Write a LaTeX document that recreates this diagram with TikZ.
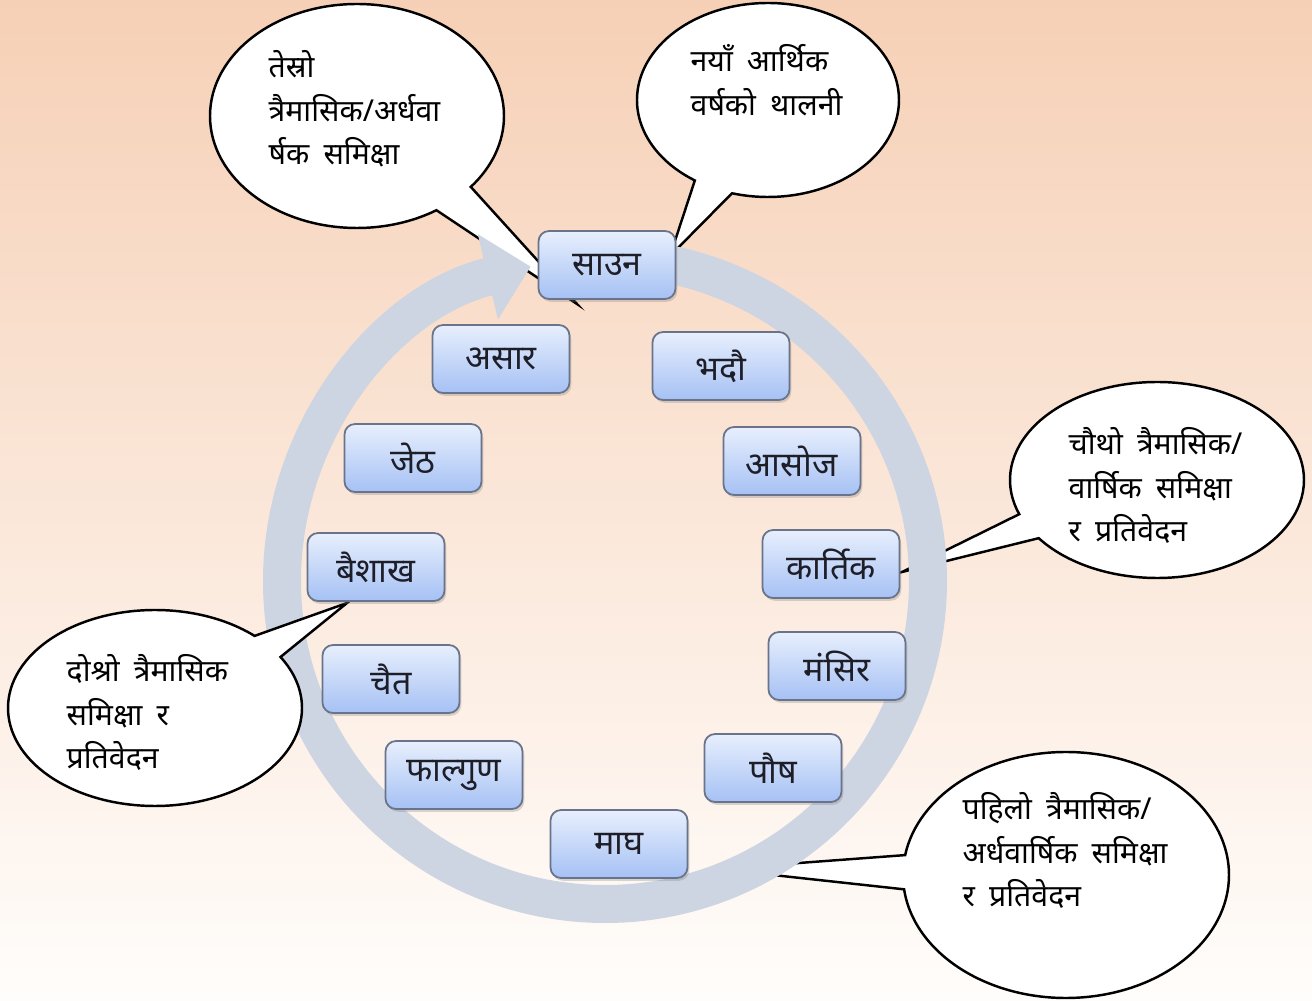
\documentclass[tikz,border=0pt]{standalone}
\usepackage{fontspec}
\usepackage{tikz}
\usetikzlibrary{arrows.meta,calc,positioning,shapes.callouts,shadows}
\newfontfamily\devfont[Script=Devanagari]{Noto Sans}
\newfontfamily\notefont[Script=Devanagari,WordSpace=1.8]{Noto Sans}
\definecolor{peach}{RGB}{246,208,182}
\definecolor{paper}{RGB}{255,253,251}
\definecolor{ringgray}{RGB}{205,212,226}
\definecolor{boxtop}{RGB}{232,239,253}
\definecolor{boxbottom}{RGB}{165,193,244}
\definecolor{boxline}{RGB}{105,115,138}
\definecolor{boxtext}{RGB}{30,30,40}

\begin{document}
\begin{tikzpicture}[
    month/.style={draw=boxline, line width=0.5pt, rounded corners=3pt, top color=boxtop, bottom color=boxbottom, minimum width=1.37cm, minimum height=0.68cm, inner sep=0, text=boxtext, font=\devfont\fontsize{9.7}{12}\selectfont, drop shadow={shadow xshift=0.5pt, shadow yshift=-0.8pt, opacity=0.3}},
    note/.style={ellipse callout, draw, fill=white, line width=0.7pt, inner sep=0, callout pointer arc=18},
    notetext/.style={anchor=north west, align=left, inner sep=0, font=\notefont\fontsize{8.6}{12.3}\selectfont},
    ring/.style={ringgray, line width=3.8mm, -{Triangle[width=8.5mm,length=4.4mm]}}
  ]
      \useasboundingbox (0,0) rectangle (13.12,10.01);
      % background
      \shade[top color=peach, bottom color=paper] (0,0) rectangle (13.12,10.01);
      % tips of the callouts
      \coordinate (tip0) at (6.70,7.45);
      \coordinate (tip1) at (7.18,1.32);
      \coordinate (tip2) at (3.47,3.98);
      \coordinate (tip3) at (5.77,6.97);
      \coordinate (tip4) at (9.02,4.29);
      \coordinate (hub) at (6.05,4.20);
      % callouts behind the ring
      \node[note, minimum width=2.62cm, minimum height=1.94cm, callout absolute pointer={(tip0)}] (newyear) at (7.68,9.01) {};
      \node[notetext] at (6.90,9.57) {नयाँ आर्थिक\\वर्षको थालनी};
      \node[note, minimum width=2.94cm, minimum height=2.24cm, callout absolute pointer={(tip3)}] (thirdq) at (3.57,8.85) {};
      \node[notetext] at (2.68,9.51) {तेस्रो\\त्रैमासिक/अर्धवा\\र्षक समिक्षा};
      \node[note, minimum width=2.94cm, minimum height=1.96cm, callout pointer arc=16, callout absolute pointer={(tip4)}] (fourthq) at (11.57,5.21) {};
      \node[notetext] at (10.68,5.74) {चौथो त्रैमासिक/\\वार्षिक समिक्षा\\र प्रतिवेदन};
      \node[note, minimum width=3.26cm, minimum height=2.46cm, callout pointer arc=16, callout absolute pointer={(tip1)}] (firstq) at (10.66,1.26) {};
      \node[notetext] at (9.62,2.09) {पहिलो त्रैमासिक/\\अर्धवार्षिक समिक्षा\\र प्रतिवेदन};
      % Draw the ring
      \draw[ring] ($(hub)+(88:3.23)$) arc[start angle=88, end angle=-256.7, radius=3.23];
      % callout over the ring
      \node[note, minimum width=2.94cm, minimum height=1.96cm, callout pointer arc=16, callout absolute pointer={(tip2)}] (secondq) at (1.55,2.93) {};
      \node[notetext] at (0.66,3.47) {दोश्रो त्रैमासिक\\समिक्षा र\\प्रतिवेदन};
      % the months
      \node[month] (saun) at (6.07,7.36) {साउन};
      \node[month] (bhadau) at (7.21,6.35) {भदौ};
      \node[month] (asoj) at (7.92,5.40) {आसोज};
      \node[month] (kartik) at (8.31,4.37) {कार्तिक};
      \node[month] (mansir) at (8.37,3.35) {मंसिर};
      \node[month] (push) at (7.73,2.33) {पौष};
      \node[month] (magh) at (6.19,1.57) {माघ};
      \node[month] (phagun) at (4.54,2.26) {फाल्गुण};
      \node[month] (chait) at (3.91,3.22) {चैत};
      \node[month] (baisakh) at (3.76,4.34) {बैशाख};
      \node[month] (jeth) at (4.13,5.43) {जेठ};
      \node[month] (asar) at (5.01,6.42) {असार};
\end{tikzpicture}
\end{document}
